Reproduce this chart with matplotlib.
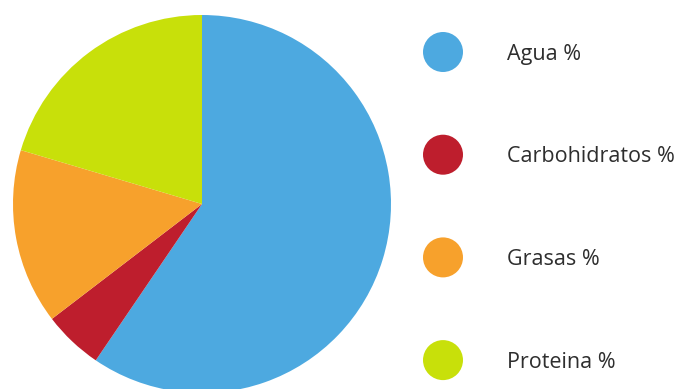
import numpy as np
import matplotlib
matplotlib.use("Agg")
import matplotlib.pyplot as plt
from matplotlib.patches import Circle

# datos
labels = ["Agua %", "Carbohidratos %", "Grasas %", "Proteina %"]
values = [59.5, 5.1, 15.0, 20.4]
colors = ["#4DA9E0", "#BE1E2D", "#F7A12C", "#C8E00A"]

W, H = 679, 389
fig = plt.figure(figsize=(W / 100, H / 100), dpi=100)
ax = fig.add_axes([0, 0, 1, 1])

ax.pie(values, colors=colors, startangle=90, counterclock=False,
       center=(202, H - 204), radius=189, frame=True,
       wedgeprops=dict(linewidth=0))
ax.set_xlim(0, W)
ax.set_ylim(0, H)
ax.set_aspect("equal")
ax.axis("off")

# leyenda
for i, (lab, col) in enumerate(zip(labels, colors)):
    y = H - (52 + i * 102.7)
    ax.add_patch(Circle((443, y), 20, color=col, lw=0))
    ax.text(507, y - 2, lab, fontsize=15.5, family="Open Sans", color="#2e2e2e",
            va="center", ha="left")

fig.savefig("out.png", dpi=100)
